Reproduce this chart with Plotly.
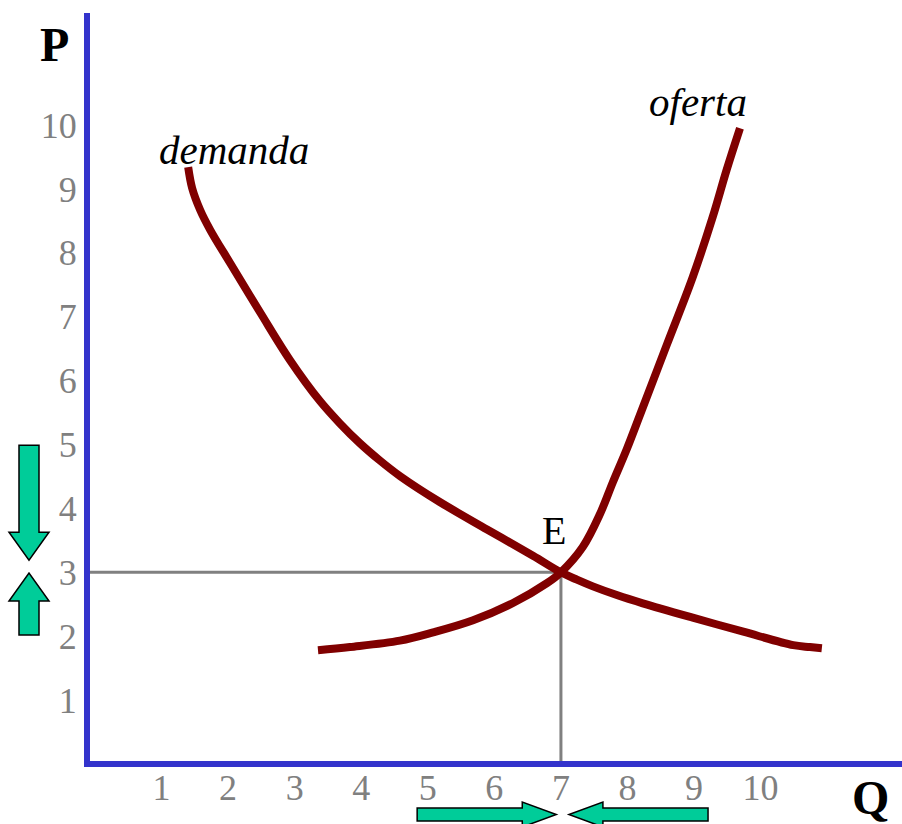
import plotly.graph_objects as go

# Demand schedule (quantity, price)
demanda_q = [1.40, 1.46, 1.58, 1.73, 2.03, 2.48, 2.93, 3.38, 3.68, 3.98, 4.28,
             4.59, 5.18, 5.89, 6.58, 7.00, 7.24, 7.48, 7.85, 8.23, 8.98, 9.74,
             10.49, 10.74, 10.92]
demanda_p = [9.34, 9.01, 8.67, 8.36, 7.84, 7.07, 6.32, 5.68, 5.33, 5.02, 4.75,
             4.50, 4.10, 3.67, 3.26, 3.00, 2.885, 2.78, 2.64, 2.515, 2.29, 2.07,
             1.86, 1.83, 1.81]

# Supply schedule (quantity, price)
oferta_q = [3.35, 3.83, 4.58, 5.08, 5.68, 6.28, 6.79, 7.00, 7.33, 7.59, 7.78,
            7.99, 8.19, 8.59, 8.98, 9.28, 9.49, 9.69]
oferta_p = [1.78, 1.83, 1.93, 2.06, 2.25, 2.52, 2.83, 3.00, 3.40, 3.92, 4.41,
            4.93, 5.47, 6.56, 7.62, 8.56, 9.30, 9.95]

# Equilibrium point
eq_q = 7
eq_p = 3

x_ticks = [1, 2, 3, 4, 5, 6, 7, 8, 9, 10]
y_ticks = [1, 2, 3, 4, 5, 6, 7, 8, 9, 10]

W, H = 902, 824
ML, MR, MT, MB = 90, 0, 13, 63
PW, PH = W - ML - MR, H - MT - MB
X_MIN, X_MAX = -0.075, 12.124
Y_MIN, Y_MAX = 0.047, 11.753

CURVE = "#800000"
AXIS = "#3333CC"
GRAY = "#808080"
GREEN = "#00CC99"
SERIF = "Liberation Serif, Times New Roman, serif"


def paper_x_from_q(q):
    return (q - X_MIN) / (X_MAX - X_MIN)


def paper_y_from_p(p):
    return (p - Y_MIN) / (Y_MAX - Y_MIN)


def px_to_paper_x(px):
    return (px - ML) / PW


def px_to_paper_y(py):
    return (H - MB - py) / PH


def vertical_arrow(p_tail, p_tip, cx, shaft_half=10, head_half=20, head_len=28):
    """Block arrow along the price axis; cx and widths in pixels."""
    y_tail = H - MB - paper_y_from_p(p_tail) * PH
    y_tip = H - MB - paper_y_from_p(p_tip) * PH
    d = 1 if y_tip > y_tail else -1
    y_base = y_tip - d * head_len
    pts = [(cx - shaft_half, y_tail), (cx + shaft_half, y_tail),
           (cx + shaft_half, y_base), (cx + head_half, y_base),
           (cx, y_tip), (cx - head_half, y_base), (cx - shaft_half, y_base)]
    return "M " + " L ".join(f"{px_to_paper_x(x):.5f},{px_to_paper_y(y):.5f}" for x, y in pts) + " Z"


def horizontal_arrow(q_tail, q_tip, cy, shaft_half=6.5, head_half=12.5, head_len=34):
    """Block arrow along the quantity axis; cy and widths in pixels."""
    x_tail = ML + paper_x_from_q(q_tail) * PW
    x_tip = ML + paper_x_from_q(q_tip) * PW
    d = 1 if x_tip > x_tail else -1
    x_base = x_tip - d * head_len
    pts = [(x_tail, cy - shaft_half), (x_tail, cy + shaft_half),
           (x_base, cy + shaft_half), (x_base, cy + head_half),
           (x_tip, cy), (x_base, cy - head_half), (x_base, cy - shaft_half)]
    return "M " + " L ".join(f"{px_to_paper_x(x):.5f},{px_to_paper_y(y):.5f}" for x, y in pts) + " Z"


fig = go.Figure()

# Reference lines to the equilibrium
fig.add_trace(go.Scatter(
    x=[X_MIN, eq_q, eq_q], y=[eq_p, eq_p, Y_MIN],
    mode="lines", line=dict(color=GRAY, width=3),
    hoverinfo="skip", showlegend=False, cliponaxis=False,
))

fig.add_trace(go.Scatter(
    x=demanda_q, y=demanda_p, mode="lines",
    line=dict(color=CURVE, width=8, shape="spline", smoothing=1.0),
    name="demanda", showlegend=False,
))
fig.add_trace(go.Scatter(
    x=oferta_q, y=oferta_p, mode="lines",
    line=dict(color=CURVE, width=8, shape="spline", smoothing=1.0),
    name="oferta", showlegend=False,
))

shapes = []
for tail, tip in [(4.99, 3.19), (2.02, 2.99)]:
    shapes.append(dict(type="path", xref="paper", yref="paper",
                       path=vertical_arrow(tail, tip, 29),
                       fillcolor=GREEN, line=dict(color="black", width=1.5),
                       layer="above"))
for tail, tip in [(4.84, 6.93), (9.21, 7.12)]:
    shapes.append(dict(type="path", xref="paper", yref="paper",
                       path=horizontal_arrow(tail, tip, 814.5),
                       fillcolor=GREEN, line=dict(color="black", width=1.5),
                       layer="above"))

annotations = [
    dict(text="<i>demanda</i>", x=2.09, y=9.61, xref="x", yref="y",
         xanchor="center", yanchor="middle", showarrow=False,
         font=dict(family=SERIF, size=41, color="black")),
    dict(text="<i>oferta</i>", x=9.06, y=10.36, xref="x", yref="y",
         xanchor="center", yanchor="middle", showarrow=False,
         font=dict(family=SERIF, size=41, color="black")),
    dict(text="E", x=6.90, y=3.65, xref="x", yref="y",
         xanchor="center", yanchor="middle", showarrow=False,
         font=dict(family=SERIF, size=40, color="black")),
    dict(text="<b>P</b>", x=px_to_paper_x(54), y=px_to_paper_y(44),
         xref="paper", yref="paper", xanchor="center", yanchor="middle",
         showarrow=False, font=dict(family=SERIF, size=48, color="black")),
    dict(text="<b>Q</b>", x=px_to_paper_x(870), y=px_to_paper_y(797),
         xref="paper", yref="paper", xanchor="center", yanchor="middle",
         showarrow=False, font=dict(family=SERIF, size=48, color="black")),
]

fig.update_layout(
    width=W, height=H,
    margin=dict(l=ML, r=MR, t=MT, b=MB),
    paper_bgcolor="white", plot_bgcolor="white",
    shapes=shapes, annotations=annotations,
    hovermode=False,
    xaxis=dict(range=[X_MIN, X_MAX], tickvals=x_ticks, ticktext=[str(v) for v in x_ticks],
               showgrid=False, zeroline=False, showline=True, linecolor=AXIS, linewidth=6,
               ticks="", ticklabelstandoff=-10,
               tickfont=dict(family=SERIF, size=36, color=GRAY), fixedrange=True),
    yaxis=dict(range=[Y_MIN, Y_MAX], tickvals=y_ticks, ticktext=[str(v) for v in y_ticks],
               showgrid=False, zeroline=False, showline=True, linecolor=AXIS, linewidth=6,
               ticks="", tickfont=dict(family=SERIF, size=36, color=GRAY), fixedrange=True),
)

fig.write_html("out.html", config={"displayModeBar": False})
